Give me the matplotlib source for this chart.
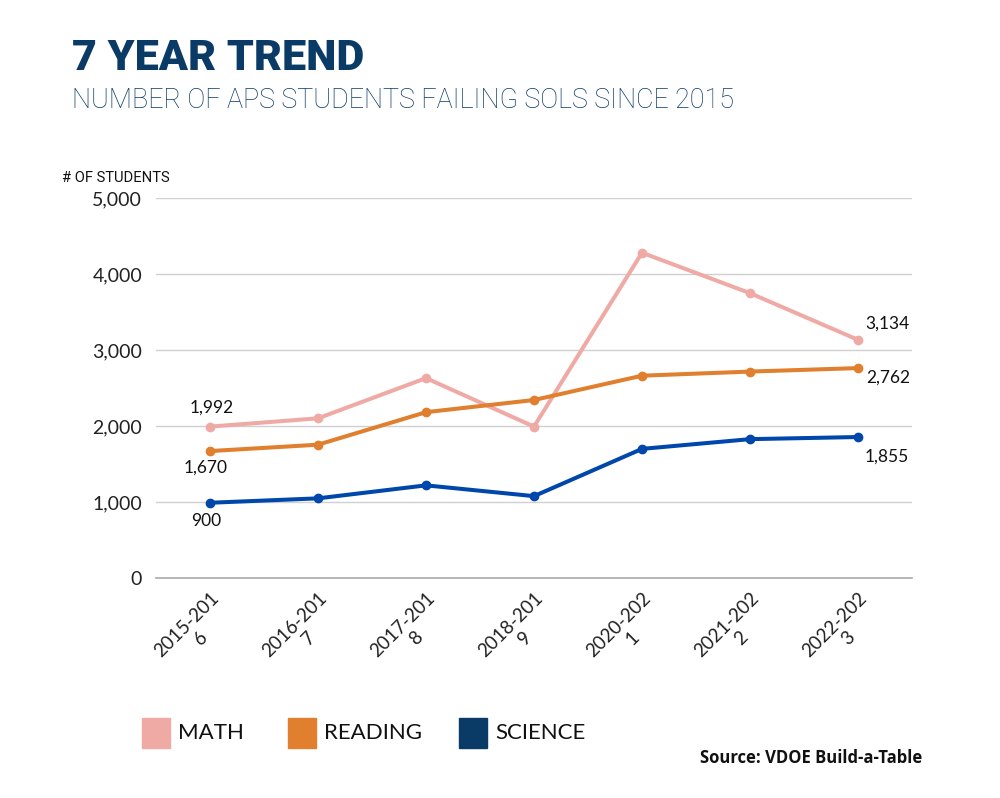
import matplotlib
matplotlib.use("Agg")
import matplotlib.pyplot as plt
from matplotlib.patches import Rectangle

categories = ["2015-201\n6", "2016-201\n7", "2017-201\n8", "2018-201\n9",
              "2020-202\n1", "2021-202\n2", "2022-202\n3"]
math_vals = [1992, 2101, 2630, 1992, 4280, 3748, 3134]
reading_vals = [1670, 1754, 2182, 2342, 2662, 2716, 2762]
science_vals = [990, 1048, 1219, 1077, 1699, 1827, 1855]
y_ticks = [0, 1000, 2000, 3000, 4000, 5000]
series_names = ["MATH", "READING", "SCIENCE"]

# data labels
first_labels = ["1,992", "1,670", "900"]
last_labels = ["3,134", "2,762", "1,855"]

line_colors = ["#F0AAA6", "#E07F2E", "#0047AB"]
legend_colors = ["#F0AAA6", "#E07F2E", "#0A3A66"]
navy = "#0A3A66"

fig = plt.figure(figsize=(10, 7.98), dpi=100)
fig.patch.set_facecolor("white")
ax = fig.add_axes([0.156, 1 - 578 / 798, 0.756, 380 / 798])

x = list(range(len(categories)))
all_vals = [math_vals, reading_vals, science_vals]
for vals, c in zip(all_vals, line_colors):
    ax.plot(x, vals, color=c, lw=2.9, marker="o", ms=6, clip_on=False,
            solid_joinstyle="round", zorder=3)

ax.set_xlim(-0.5, len(categories) - 0.5)
ax.set_ylim(0, 5000)
ax.set_yticks(y_ticks)
ax.set_yticklabels([f"{v:,}" for v in y_ticks], fontsize=14, family="Lato", color="#222222")
ax.yaxis.grid(True, color="#d0d0d0", lw=1)
ax.set_axisbelow(True)
for s in ["top", "right", "left"]:
    ax.spines[s].set_visible(False)
ax.spines["bottom"].set_color("#aaaaaa")
ax.spines["bottom"].set_linewidth(1.2)
ax.tick_params(axis="y", length=0, pad=10)
ax.tick_params(axis="x", length=0, pad=8)
ax.set_xticks(x)
ax.set_xticklabels(categories, rotation=45, ha="right", va="top",
                   rotation_mode="anchor", multialignment="center",
                   fontsize=13.5, family="Lato", color="#222222")

# data labels
first_offsets = [(1, 14), (-3, -12), (-3, -13)]
last_offsets = [(21, 12), (22, -7), (21, -14)]
for vals, t, off in zip(all_vals, first_labels, first_offsets):
    ax.annotate(t, (0, vals[0]), xytext=off, textcoords="offset points",
                ha="center", va="center", fontsize=12.5, family="Lato", color="#111111")
for vals, t, off in zip(all_vals, last_labels, last_offsets):
    ax.annotate(t, (len(categories) - 1, vals[-1]), xytext=off, textcoords="offset points",
                ha="center", va="center", fontsize=12.5, family="Lato", color="#111111")

# titles
fig.text(0.072, 1 - 58 / 798, "7 YEAR TREND", fontsize=31, family="Roboto",
         weight="black", color=navy, va="center", ha="left")
fig.text(0.072, 1 - 100 / 798, "NUMBER OF APS STUDENTS FAILING SOLS SINCE 2015",
         fontsize=19.4, family="Roboto", weight="light", color=navy, va="center", ha="left")
fig.text(0.062, 1 - 178 / 798, "# OF STUDENTS", fontsize=10.6, family="Roboto",
         color="#111111", va="center", ha="left")

# legend
leg_x = [142, 288, 459]
for lx, name, c in zip(leg_x, series_names, legend_colors):
    fig.patches.append(Rectangle((lx / 1000, 1 - 748 / 798), 28 / 1000, 30 / 798,
                                 transform=fig.transFigure, color=c))
    fig.text((lx + 36) / 1000, 1 - 733 / 798, name, fontsize=16, family="Lato",
             color="#111111", va="center", ha="left")

fig.text(0.922, 1 - 758 / 798, "Source: VDOE Build-a-Table", fontsize=12,
         family="Open Sans", weight="bold", color="#111111", va="center", ha="right")

fig.savefig("out.png", dpi=100)
